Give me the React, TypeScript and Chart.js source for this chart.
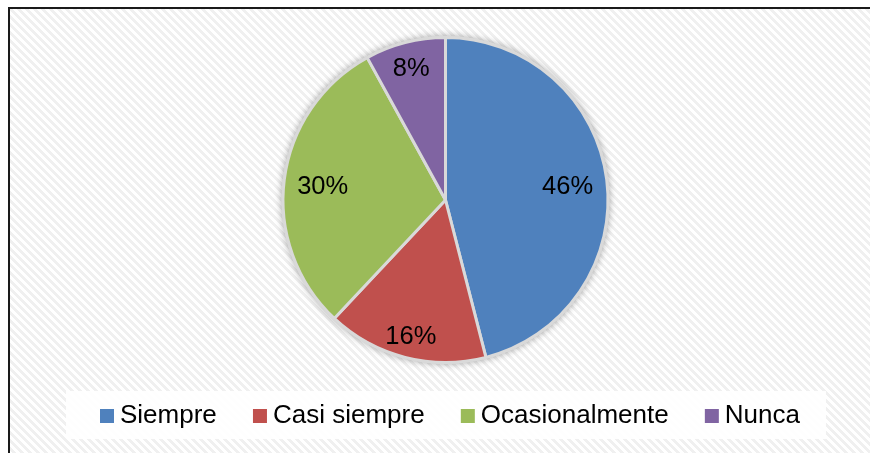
import React, { useEffect, useRef } from "react";
import { Chart, registerables } from "chart.js";

Chart.register(...registerables);

const categories = ["Siempre", "Casi siempre", "Ocasionalmente", "Nunca"];
const values = [46, 16, 30, 8];
const valueLabels = ["46%", "16%", "30%", "8%"];
const colors = ["#4F81BD", "#C0504D", "#9BBB59", "#8064A2"];

const W = 870;
const H = 453;
const FONT = '"Liberation Sans", Arial, sans-serif';

const bgPlugin = {
  id: "bgFrame",
  beforeDraw(chart: any) {
    const ctx = chart.ctx as CanvasRenderingContext2D;
    ctx.save();
    ctx.fillStyle = "#ffffff";
    ctx.fillRect(0, 0, W, H);
    const tile = document.createElement("canvas");
    tile.width = 8;
    tile.height = 8;
    const t = tile.getContext("2d")!;
    t.fillStyle = "#ffffff";
    t.fillRect(0, 0, 8, 8);
    t.fillStyle = "#f0f0f0";
    for (let y = 0; y < 8; y++) {
      for (let x = 0; x < 8; x++) {
        if ((((x - y) % 8) + 8) % 8 < 4) t.fillRect(x, y, 1, 1);
      }
    }
    const pat = ctx.createPattern(tile, "repeat")!;
    ctx.fillStyle = pat;
    ctx.fillRect(10, 9, W - 10, H - 9);
    // frame
    ctx.fillStyle = "#1a1a1a";
    ctx.fillRect(8, 7, 2, H - 7);
    ctx.fillRect(8, 7, W - 8, 2);
    // legend box
    ctx.fillStyle = "rgba(255,255,255,0.92)";
    ctx.fillRect(66, 391, 760, 48);
    ctx.restore();
  },
  beforeDatasetsDraw(chart: any) {
    const arc = chart.getDatasetMeta(0).data[0];
    if (!arc) return;
    const ctx = chart.ctx as CanvasRenderingContext2D;
    ctx.save();
    ctx.shadowColor = "rgba(0,0,0,0.35)";
    ctx.shadowBlur = 7;
    ctx.fillStyle = "#d9d9d9";
    ctx.beginPath();
    ctx.arc(arc.x, arc.y, arc.outerRadius + 1.5, 0, Math.PI * 2);
    ctx.fill();
    ctx.restore();
  },
  afterDatasetsDraw(chart: any, _args: any, opts: any) {
    const ctx = chart.ctx as CanvasRenderingContext2D;
    const meta = chart.getDatasetMeta(0);
    const ratios: number[] = opts.labelRadius;
    ctx.save();
    ctx.font = `25.5px ${FONT}`;
    ctx.fillStyle = "#000000";
    ctx.textAlign = "center";
    ctx.textBaseline = "alphabetic";
    meta.data.forEach((a: any, i: number) => {
      const mid = (a.startAngle + a.endAngle) / 2;
      const r = (a.outerRadius + 1.5) * ratios[i];
      const x = a.x + Math.cos(mid) * r;
      const y = a.y + Math.sin(mid) * r;
      ctx.fillText(valueLabels[i], x, y + (25.5 * 0.716) / 2);
    });
    ctx.restore();
  },
  afterDraw(chart: any) {
    const ctx = chart.ctx as CanvasRenderingContext2D;
    ctx.save();
    const fs = 26;
    ctx.font = `${fs}px ${FONT}`;
    ctx.textBaseline = "alphabetic";
    ctx.textAlign = "left";
    const box = 14;
    const gapBox = 6;
    const widths = categories.map((c) => ctx.measureText(c).width);
    const startX = 100;
    const endX = 800;
    const used = widths.reduce((s, w) => s + box + gapBox + w, 0);
    const gapItem = (endX - startX - used) / (categories.length - 1);
    let x = startX;
    const baseline = 423;
    categories.forEach((c, i) => {
      ctx.fillStyle = colors[i];
      ctx.fillRect(x, baseline - box, box, box);
      ctx.fillStyle = "#000000";
      ctx.fillText(c, x + box + gapBox, baseline);
      x += box + gapBox + widths[i] + gapItem;
    });
    ctx.restore();
  },
};

export default function App() {
  const ref = useRef<HTMLCanvasElement | null>(null);
  useEffect(() => {
    if (!ref.current) return;
    const chart = new Chart(ref.current, {
      type: "pie",
      data: {
        labels: categories,
        datasets: [
          {
            data: values,
            backgroundColor: colors,
            borderColor: "#d9d9d9",
            borderWidth: 3,
          },
        ],
      },
      options: {
        responsive: false,
        animation: false,
        layout: { padding: { left: 21, right: 0, top: 36, bottom: 89 } },
        plugins: {
          legend: { display: false },
          tooltip: { enabled: false },
          bgFrame: { labelRadius: [0.75, 0.85, 0.755, 0.84] },
        } as any,
      },
      plugins: [bgPlugin],
    });
    return () => chart.destroy();
  }, []);
  return (
    <div style={{ position: "fixed", left: 0, top: 0, width: W, height: H }}>
      <canvas ref={ref} width={W} height={H} style={{ display: "block", width: W, height: H }} />
    </div>
  );
}
